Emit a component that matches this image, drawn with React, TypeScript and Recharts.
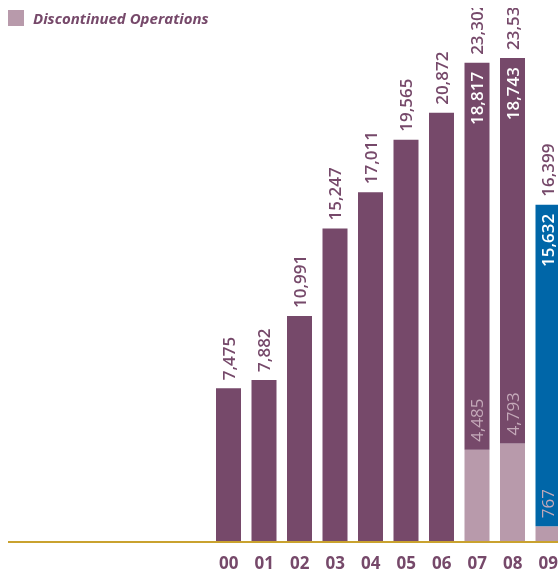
import React from 'react';
import { BarChart, Bar, XAxis, YAxis, Cell, LabelList } from 'recharts';

const years = ['00', '01', '02', '03', '04', '05', '06', '07', '08', '09'];
const continuing = [7475, 7882, 10991, 15247, 17011, 19565, 20872, 18817, 18743, 15632];
const discontinued = [0, 0, 0, 0, 0, 0, 0, 4485, 4793, 767];
const legendLabel = 'Discontinued Operations';

const PURPLE = '#76496A';
const LIGHT = '#B89AAB';
const BLUE = '#0066A8';
const GOLD = '#C9A22F';
const FONT = '"Open Sans", "Noto Sans", sans-serif';

const data = years.map((y, i) => ({
  year: y,
  disc: discontinued[i],
  cont: continuing[i],
  total: continuing[i] + discontinued[i],
}));

const fmt = (v: number) => v.toLocaleString('en-US');

const renderLabels = (props: any) => {
  const { x, y, width, height, index } = props;
  const d = data[index];
  const cx = x + width / 2;
  const top = y;
  const bottom = y + height;
  const out: any[] = [];
  const rot = (ty: number) => `rotate(-90 ${cx} ${ty})`;
  const ty1 = top - 8;
  out.push(
    <text key="t" x={cx} y={ty1} transform={rot(ty1)} textAnchor="start" dominantBaseline="central"
      fill={PURPLE} fontSize={17} fontWeight={600} fontFamily={FONT}>{fmt(d.total)}</text>
  );
  if (d.disc > 0) {
    const ty2 = top + 9;
    out.push(
      <text key="c" x={cx} y={ty2} transform={rot(ty2)} textAnchor="end" dominantBaseline="central"
        fill="#FFFFFF" fontSize={17} fontWeight={600} fontFamily={FONT}>{fmt(d.cont)}</text>
    );
    const ty3 = bottom - 8;
    out.push(
      <text key="d" x={cx} y={ty3} transform={rot(ty3)} textAnchor="start" dominantBaseline="central"
        fill="#C4A9B9" fontSize={17} fontWeight={500} fontFamily={FONT}>{fmt(d.disc)}</text>
    );
  }
  return <g>{out}</g>;
};

export default function App() {
  return (
    <div style={{ position: 'fixed', left: 8, top: 8, width: 558, height: 566 }}>
      <style>{'html { overflow: hidden; }'}</style>
      <BarChart width={558} height={566} data={data} margin={{ top: 0, right: 0, bottom: 0, left: 0 }} barSize={25}>
        <XAxis dataKey="year" padding={{ left: 203, right: 0 }} tickLine={false} tickSize={0} tickMargin={15}
          axisLine={{ stroke: GOLD, strokeWidth: 2 }} height={32} interval={0}
          tick={{ fill: PURPLE, fontSize: 17, fontWeight: 700, fontFamily: FONT }} />
        <YAxis hide domain={[0, 25970]} />
        <Bar dataKey="disc" stackId="a" fill={LIGHT} isAnimationActive={false} />
        <Bar dataKey="cont" stackId="a" fill={PURPLE} isAnimationActive={false}>
          {data.map((d, i) => (
            <Cell key={i} fill={d.year === '09' ? BLUE : PURPLE} />
          ))}
          <LabelList dataKey="cont" content={renderLabels} />
        </Bar>
      </BarChart>
      <div style={{ position: 'absolute', left: 0, top: 0, display: 'flex', alignItems: 'center' }}>
        <div style={{ width: 16, height: 16, background: LIGHT }} />
        <span style={{ marginLeft: 9, color: PURPLE, fontFamily: FONT, fontWeight: 700, fontStyle: 'italic', fontSize: 15 }}>
          {legendLabel}
        </span>
      </div>
    </div>
  );
}
